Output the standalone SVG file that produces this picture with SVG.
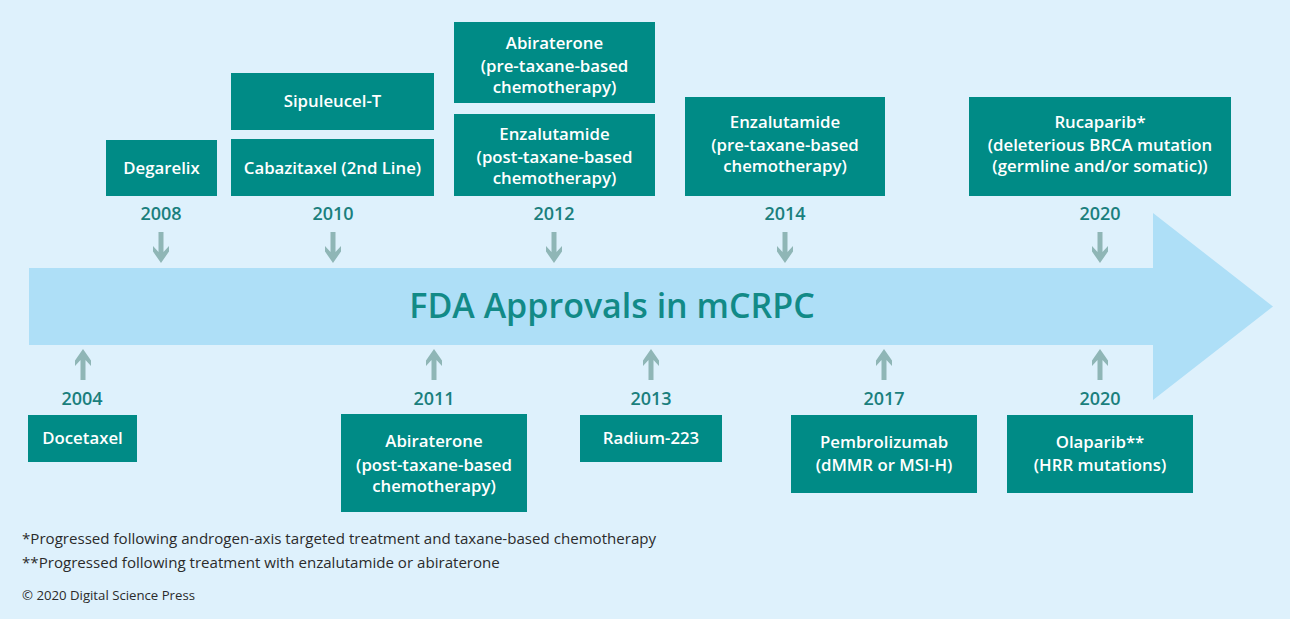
<svg xmlns="http://www.w3.org/2000/svg" xmlns:xlink="http://www.w3.org/1999/xlink" width="1290" height="619" viewBox="0 0 1290 619">
<style>
.box{fill:#008b86}
.bt{fill:#ffffff;font-family:"Open Sans","Noto Sans",sans-serif;font-size:16.8px;font-weight:600;text-anchor:middle}
.yr{fill:#1a7f7d;font-family:"Open Sans","Noto Sans",sans-serif;font-size:18px;font-weight:600;text-anchor:middle}
.fn{fill:#2b2b2b;font-family:"Open Sans","Noto Sans",sans-serif;font-size:15.1px}
.sa{fill:#8fb6b6}
</style>
<defs>
<path id="down" d="M-2.5,0 H2.5 V20 L8,14 V19.5 L0,31 L-8,19.5 V14 L-2.5,20 Z"/>
<path id="up" d="M-2.5,31 H2.5 V11 L8,17 V11.5 L0,0 L-8,11.5 V17 L-2.5,11 Z"/>
</defs>
<rect width="1290" height="619" fill="#def1fc"/>
<g id="timeline">
<polygon points="29,268 1153,268 1153,213 1273,306.5 1153,400 1153,345 29,345" fill="#aedff7"/>
<text x="612" y="318" fill="#128a87" font-family="'Open Sans','Noto Sans',sans-serif" font-size="34" font-weight="600" text-anchor="middle">FDA Approvals in mCRPC</text>
</g>
<g id="connectors" class="sa">
<use xlink:href="#down" x="161" y="232"/>
<use xlink:href="#down" x="333" y="232"/>
<use xlink:href="#down" x="554" y="232"/>
<use xlink:href="#down" x="785" y="232"/>
<use xlink:href="#down" x="1100" y="232"/>
<use xlink:href="#up" x="83" y="349"/>
<use xlink:href="#up" x="434" y="349"/>
<use xlink:href="#up" x="651" y="349"/>
<use xlink:href="#up" x="884" y="349"/>
<use xlink:href="#up" x="1100" y="349"/>
</g>
<g id="years">
<text class="yr" x="161" y="220">2008</text>
<text class="yr" x="333" y="220">2010</text>
<text class="yr" x="554" y="220">2012</text>
<text class="yr" x="785" y="220">2014</text>
<text class="yr" x="1100" y="220">2020</text>
<text class="yr" x="82" y="405">2004</text>
<text class="yr" x="434" y="405">2011</text>
<text class="yr" x="651" y="405">2013</text>
<text class="yr" x="884" y="405">2017</text>
<text class="yr" x="1100" y="405">2020</text>
</g>
<g id="degarelix"><rect class="box" x="106" y="140" width="111" height="56"/><text class="bt" x="161.5" y="174">Degarelix</text></g>
<g id="sipuleucel"><rect class="box" x="231" y="73" width="203" height="57"/><text class="bt" x="332.5" y="107">Sipuleucel-T</text></g>
<g id="cabazitaxel"><rect class="box" x="231" y="139" width="203" height="57"/><text class="bt" x="332.5" y="174">Cabazitaxel (2nd Line)</text></g>
<g id="abiraterone-pre"><rect class="box" x="454" y="22" width="201" height="81"/><text class="bt" x="554.5" y="49">Abiraterone</text><text class="bt" x="554.5" y="72">(pre-taxane-based</text><text class="bt" x="554.5" y="93">chemotherapy)</text></g>
<g id="enzalutamide-post"><rect class="box" x="454" y="114" width="201" height="82"/><text class="bt" x="554.5" y="140">Enzalutamide</text><text class="bt" x="554.5" y="163">(post-taxane-based</text><text class="bt" x="554.5" y="184">chemotherapy)</text></g>
<g id="enzalutamide-pre"><rect class="box" x="685" y="97" width="200" height="99"/><text class="bt" x="785" y="128">Enzalutamide</text><text class="bt" x="785" y="151">(pre-taxane-based</text><text class="bt" x="785" y="172">chemotherapy)</text></g>
<g id="rucaparib"><rect class="box" x="969" y="97" width="262" height="99"/><text class="bt" x="1100" y="128">Rucaparib*</text><text class="bt" x="1100" y="151">(deleterious BRCA mutation</text><text class="bt" x="1100" y="172">(germline and/or somatic))</text></g>
<g id="docetaxel"><rect class="box" x="28" y="415" width="109" height="47"/><text class="bt" x="82.5" y="444">Docetaxel</text></g>
<g id="abiraterone-post"><rect class="box" x="341" y="414" width="186" height="98"/><text class="bt" x="434" y="447">Abiraterone</text><text class="bt" x="434" y="471">(post-taxane-based</text><text class="bt" x="434" y="492">chemotherapy)</text></g>
<g id="radium"><rect class="box" x="580" y="415" width="142" height="47"/><text class="bt" x="651" y="444">Radium-223</text></g>
<g id="pembrolizumab"><rect class="box" x="791" y="415" width="186" height="78"/><text class="bt" x="884" y="448">Pembrolizumab</text><text class="bt" x="884" y="471">(dMMR or MSI-H)</text></g>
<g id="olaparib"><rect class="box" x="1007" y="415" width="186" height="78"/><text class="bt" x="1100" y="448">Olaparib**</text><text class="bt" x="1100" y="471">(HRR mutations)</text></g>
<g id="footnotes">
<text class="fn" x="22" y="544">*Progressed following androgen-axis targeted treatment and taxane-based chemotherapy</text>
<text class="fn" x="22" y="568">**Progressed following treatment with enzalutamide or abiraterone</text>
<text class="fn" x="22" y="600" style="font-size:13.2px">© 2020 Digital Science Press</text>
</g>
</svg>
